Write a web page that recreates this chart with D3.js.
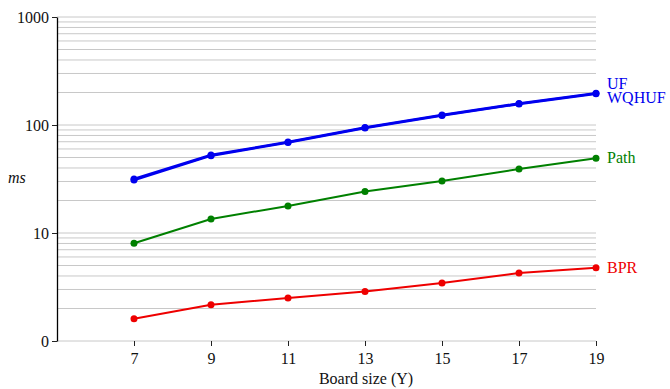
<!DOCTYPE html>
<html>
<head>
<meta charset="utf-8">
<script src="https://cdn.jsdelivr.net/npm/d3@7"></script>
<style>
  body { margin: 0; background: #fff; }
  svg text { font-family: "Liberation Serif", "Times New Roman", serif; }
</style>
</head>
<body>
<svg id="chart" width="670" height="389"></svg>
<script>
// Board sizes and timings (ms) per solver
const boardSizes = [7, 9, 11, 13, 15, 17, 19];
const ufValues    = [31.6, 52.7, 69.6, 94.8, 123.8, 158, 196.5];
const wqhufValues = [31.0, 52.0, 68.8, 93.8, 122.5, 156.5, 194.5];
const pathValues  = [8.03, 13.5, 17.8, 24.2, 30.3, 39.1, 49.2];
const bprValues   = [1.61, 2.17, 2.50, 2.87, 3.44, 4.26, 4.77];
const yTickValues = [1, 10, 100, 1000];
const yTickLabels = ["0", "10", "100", "1000"];

const series = [
  { name: "UF",    values: ufValues,    color: "#0000ee", width: 2.5 },
  { name: "WQHUF", values: wqhufValues, color: "#0000ee", width: 2.5 },
  { name: "Path",  values: pathValues,  color: "#008000", width: 2 },
  { name: "BPR",   values: bprValues,   color: "#ee0000", width: 2 }
];

const FONT = "Liberation Serif, Times New Roman, serif";
const svg = d3.select("#chart");
const x = d3.scaleLinear().domain([5, 19]).range([57, 596]);
const y = d3.scaleLog().domain([1, 1000]).range([341, 17]);

// Grid lines at 1..9 × each decade
const gridVals = [];
for (let e = 0; e < 3; e++) for (let m = 1; m <= 9; m++) gridVals.push(m * Math.pow(10, e));
gridVals.push(1000);
svg.append("g").selectAll("line").data(gridVals).join("line")
  .attr("x1", x(5)).attr("x2", x(19))
  .attr("y1", d => y(d)).attr("y2", d => y(d))
  .attr("stroke", "#c8c8c8").attr("stroke-width", 1);

// X axis
const xAxis = d3.axisBottom(x).tickValues(boardSizes).tickSize(5).tickSizeOuter(0);
const gx = svg.append("g").attr("transform", `translate(0,${y(1)})`).call(xAxis);
gx.attr("font-family", FONT).attr("font-size", 16);
gx.select(".domain").remove();
gx.selectAll(".tick line").attr("stroke", "#222");
gx.selectAll(".tick text").attr("dy", "0.95em").attr("fill", "#111");

// Y axis
const yAxis = d3.axisLeft(y).tickValues(yTickValues)
  .tickFormat((d, i) => yTickLabels[i]).tickSize(5).tickSizeOuter(0);
const gy = svg.append("g").attr("transform", `translate(${x(5)},0)`).call(yAxis);
gy.attr("font-family", FONT).attr("font-size", 16);
gy.select(".domain").attr("stroke", "#000").attr("stroke-width", 1.3);
gy.selectAll(".tick line").attr("stroke", "#222");
gy.selectAll(".tick text").attr("fill", "#111");

// Axis titles
svg.append("text").attr("x", x(13) + 1).attr("y", 384).attr("text-anchor", "middle")
  .attr("font-family", FONT).attr("font-size", 16).attr("fill", "#111").text("Board size (Y)");
svg.append("text").attr("x", 8).attr("y", 183).attr("font-size", 16)
  .attr("font-family", FONT).attr("font-style", "italic").attr("fill", "#111").text("ms");

// Series lines and points
const line = d3.line().x((d, i) => x(boardSizes[i])).y(d => y(d));
series.forEach(s => {
  svg.append("path").datum(s.values).attr("d", line)
    .attr("fill", "none").attr("stroke", s.color).attr("stroke-width", s.width);
  svg.append("g").selectAll("circle").data(s.values).join("circle")
    .attr("cx", (d, i) => x(boardSizes[i])).attr("cy", d => y(d))
    .attr("r", 3.5).attr("fill", s.color);
});

// End labels
const lx = x(19) + 11;
const labels = svg.append("g").attr("font-family", FONT).attr("font-size", 16);
labels.append("text").attr("x", lx).attr("y", 89).attr("fill", "#0000ee").text("UF");
labels.append("text").attr("x", lx).attr("y", 103).attr("fill", "#0000ee").text("WQHUF");
labels.append("text").attr("x", lx).attr("y", y(pathValues[6]) + 5).attr("fill", "#008000").text("Path");
labels.append("text").attr("x", lx).attr("y", y(bprValues[6]) + 5).attr("fill", "#ee0000").text("BPR");
</script>
</body>
</html>
